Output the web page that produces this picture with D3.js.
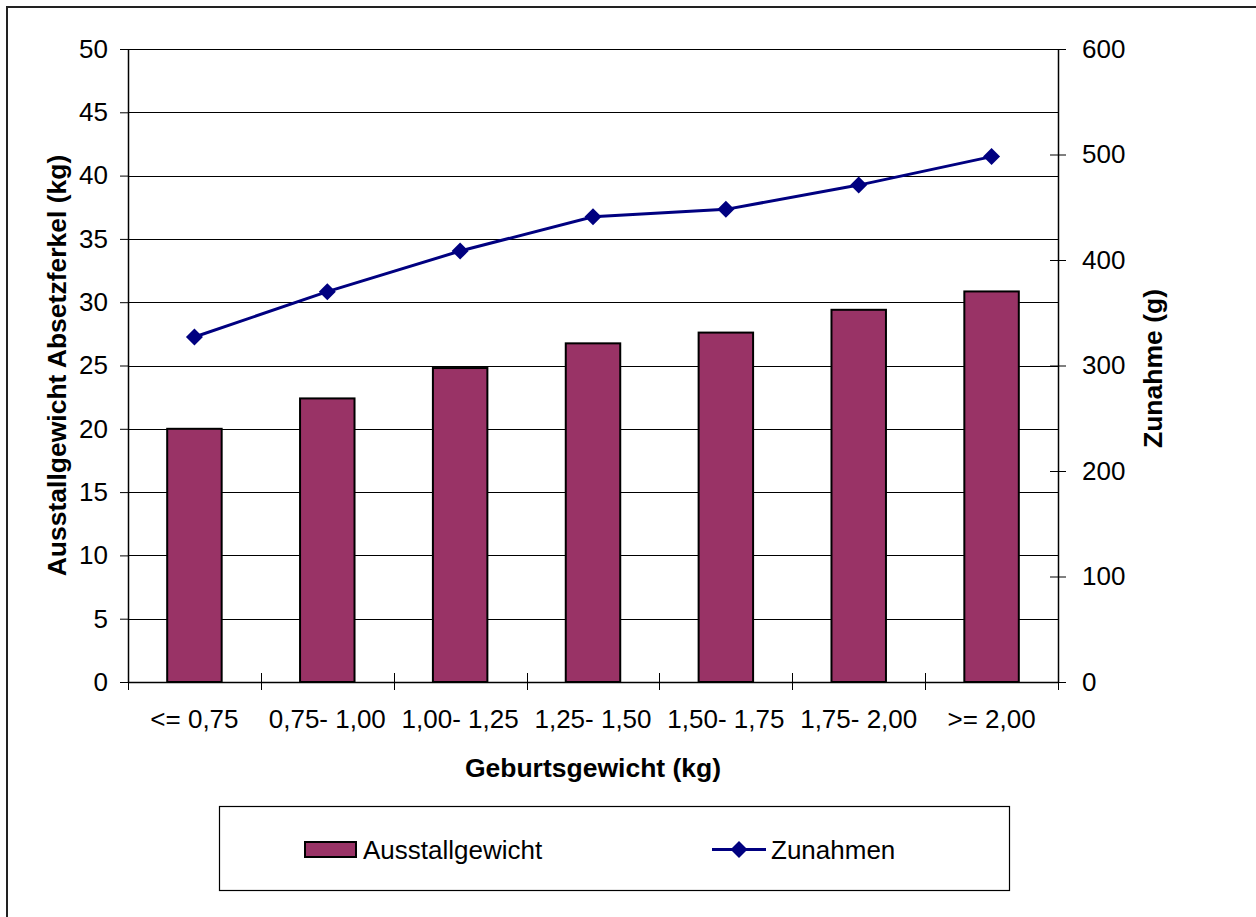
<!DOCTYPE html>
<html>
<head>
<meta charset="utf-8">
<script src="https://cdn.jsdelivr.net/npm/d3@7"></script>
<style>
  html, body { margin: 0; padding: 0; background: #fff; }
  svg { display: block; font-family: "Liberation Sans", Arial, sans-serif; }
</style>
</head>
<body>
<svg id="chart" width="1256" height="917"></svg>
<script>
// Geburtsgewicht classes
const categories = ["<= 0,75", "0,75- 1,00", "1,00- 1,25", "1,25- 1,50", "1,50- 1,75", "1,75- 2,00", ">= 2,00"];
// Ausstallgewicht Absetzferkel (kg)
const ausstallgewicht = [20.0, 22.4, 24.8, 26.75, 27.6, 29.4, 30.85];
// Zunahmen (g)
const zunahmen = [327, 370, 408.5, 441, 448, 471, 498];
// axis ticks
const leftTicks = [0, 5, 10, 15, 20, 25, 30, 35, 40, 45, 50];
const rightTicks = [0, 100, 200, 300, 400, 500, 600];

const FONT = 26;
const TITLE_FONT = 26.5;

const svg = d3.select("#chart");
const plot = { left: 128, right: 1058, top: 49, bottom: 682 };

const x = d3.scaleBand().domain(categories).range([plot.left, plot.right]).paddingInner(0).paddingOuter(0);
const yL = d3.scaleLinear().domain([0, 50]).range([plot.bottom, plot.top]);
const yR = d3.scaleLinear().domain([0, 600]).range([plot.bottom, plot.top]);

// outer chart frame (runs past the right and bottom edges)
svg.append("rect")
  .attr("x", 7).attr("y", 7).attr("width", 1300).attr("height", 1000)
  .attr("fill", "#fff").attr("stroke", "#222").attr("stroke-width", 2);

// horizontal gridlines
svg.append("g").selectAll("line").data(leftTicks.filter(d => d > 0)).join("line")
  .attr("x1", plot.left).attr("x2", plot.right)
  .attr("y1", d => Math.round(yL(d)) + 0.5).attr("y2", d => Math.round(yL(d)) + 0.5)
  .attr("stroke", "#000").attr("stroke-width", 1).attr("shape-rendering", "crispEdges");

// bars
const barW = x.bandwidth() * 0.41;
svg.append("g").selectAll("rect").data(categories).join("rect")
  .attr("x", (d) => x(d) + (x.bandwidth() - barW) / 2)
  .attr("y", (d, i) => yL(ausstallgewicht[i]))
  .attr("width", barW)
  .attr("height", (d, i) => yL(0) - yL(ausstallgewicht[i]))
  .attr("fill", "#993366").attr("stroke", "#000").attr("stroke-width", 2);

// left axis
const axL = svg.append("g").attr("transform", `translate(${plot.left},0)`)
  .call(d3.axisLeft(yL).tickValues(leftTicks).tickSize(8).tickPadding(12).tickFormat(d3.format("d")));
axL.select(".domain").remove();
axL.selectAll(".tick line").attr("stroke", "#000").attr("x2", -8).attr("x1", 0);
axL.selectAll(".tick text").attr("font-size", FONT).attr("fill", "#000").attr("font-family", "Liberation Sans, Arial, sans-serif");
svg.append("line").attr("x1", plot.left + 0.5).attr("x2", plot.left + 0.5)
  .attr("y1", plot.top).attr("y2", plot.bottom).attr("stroke", "#000").attr("stroke-width", 1.5);

// right axis
const axR = svg.append("g").attr("transform", `translate(${plot.right},0)`)
  .call(d3.axisRight(yR).tickValues(rightTicks).tickSize(8).tickPadding(16).tickFormat(d3.format("d")));
axR.select(".domain").remove();
axR.selectAll(".tick line").attr("stroke", "#000").attr("x1", -8).attr("x2", 8);
axR.selectAll(".tick text").attr("font-size", FONT).attr("fill", "#000").attr("font-family", "Liberation Sans, Arial, sans-serif");
svg.append("line").attr("x1", plot.right + 0.5).attr("x2", plot.right + 0.5)
  .attr("y1", plot.top).attr("y2", plot.bottom).attr("stroke", "#000").attr("stroke-width", 1.5);

// bottom axis
const axB = svg.append("g").attr("transform", `translate(0,${plot.bottom})`)
  .call(d3.axisBottom(x).tickSize(0).tickPadding(28));
axB.select(".domain").remove();
axB.selectAll(".tick text").attr("font-size", FONT).attr("fill", "#000").attr("font-family", "Liberation Sans, Arial, sans-serif");
svg.append("line").attr("x1", plot.left).attr("x2", plot.right)
  .attr("y1", plot.bottom + 0.5).attr("y2", plot.bottom + 0.5).attr("stroke", "#000").attr("stroke-width", 1.5);
// category separators
const seps = categories.map(d => x(d)).concat([plot.right]);
svg.append("g").selectAll("line").data(seps).join("line")
  .attr("x1", d => Math.round(d) + 0.5).attr("x2", d => Math.round(d) + 0.5)
  .attr("y1", plot.bottom - 9).attr("y2", plot.bottom + 8)
  .attr("stroke", "#000").attr("stroke-width", 1);

// Zunahmen line
const cx = (d) => x(d) + x.bandwidth() / 2;
const line = d3.line().x((d, i) => cx(categories[i])).y(d => yR(d));
svg.append("path").datum(zunahmen).attr("d", line)
  .attr("fill", "none").attr("stroke", "#000080").attr("stroke-width", 3);
const diamond = (s) => `M0,${-s}L${s},0L0,${s}L${-s},0Z`;
svg.append("g").selectAll("path").data(zunahmen).join("path")
  .attr("transform", (d, i) => `translate(${cx(categories[i])},${yR(d)})`)
  .attr("d", diamond(8.5)).attr("fill", "#000080");

// axis titles
svg.append("text").attr("x", (plot.left + plot.right) / 2).attr("y", 777)
  .attr("text-anchor", "middle").attr("font-size", TITLE_FONT).attr("font-weight", "bold")
  .text("Geburtsgewicht (kg)");
svg.append("text").attr("transform", `translate(66,${(plot.top + plot.bottom) / 2}) rotate(-90)`)
  .attr("text-anchor", "middle").attr("font-size", TITLE_FONT).attr("font-weight", "bold")
  .text("Ausstallgewicht Absetzferkel (kg)");
svg.append("text").attr("transform", `translate(1162,${(plot.top + plot.bottom) / 2 + 3}) rotate(-90)`)
  .attr("text-anchor", "middle").attr("font-size", TITLE_FONT).attr("font-weight", "bold")
  .text("Zunahme (g)");

// legend
const lg = svg.append("g");
lg.append("rect").attr("x", 219.5).attr("y", 806.5).attr("width", 790).attr("height", 84)
  .attr("fill", "#fff").attr("stroke", "#000").attr("stroke-width", 1.2);
lg.append("rect").attr("x", 305).attr("y", 842).attr("width", 51).attr("height", 15)
  .attr("fill", "#993366").attr("stroke", "#000").attr("stroke-width", 2);
lg.append("text").attr("x", 363).attr("y", 859).attr("font-size", FONT).text("Ausstallgewicht");
lg.append("line").attr("x1", 712).attr("x2", 766).attr("y1", 849.5).attr("y2", 849.5)
  .attr("stroke", "#000080").attr("stroke-width", 3);
lg.append("path").attr("transform", "translate(739,849.5)").attr("d", diamond(8.5)).attr("fill", "#000080");
lg.append("text").attr("x", 771).attr("y", 859).attr("font-size", FONT).text("Zunahmen");
</script>
</body>
</html>
